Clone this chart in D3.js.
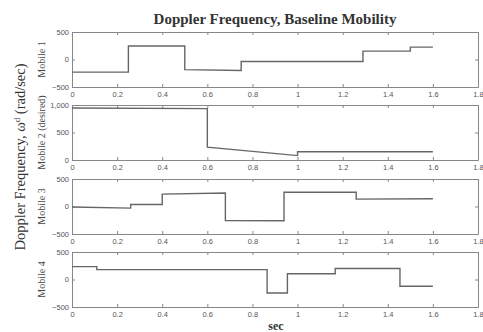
<!DOCTYPE html>
<html>
<head>
<meta charset="utf-8">
<script src="https://cdn.jsdelivr.net/npm/d3@7"></script>
<style>
  body { margin: 0; background: #fff; }
  .tick text { font-family: "Liberation Sans", Arial, sans-serif; font-size: 7.5px; fill: #555; }
  .domain, .tick line { stroke: #888; }
</style>
</head>
<body>
<svg id="chart" width="483" height="332"></svg>
<script>
const xTicks = [0, 0.2, 0.4, 0.6, 0.8, 1, 1.2, 1.4, 1.6, 1.8];
const panelNames = ["Mobile 1", "Mobile 2 (desired)", "Mobile 3", "Mobile 4"];
const yDomains = [[-500, 500], [0, 1000], [-500, 500], [-500, 500]];
const yTicks = [[-500, 0, 500], [0, 500, 1000], [-500, 0, 500], [-500, 0, 500]];

// [time, value] pairs, vertical jumps listed twice
const mobile1 = [[0, -230], [0.25, -230], [0.25, 245], [0.5, 245], [0.5, -185], [0.75, -200],
  [0.75, -35], [1.29, -35], [1.29, 152], [1.5, 152], [1.5, 225], [1.6, 225]];
const mobile2 = [[0, 945], [0.6, 935], [0.6, 235], [1.0, 80], [1.0, 150], [1.6, 150]];
const mobile3 = [[0, -10], [0.26, -30], [0.26, 37], [0.4, 37], [0.4, 225], [0.68, 245],
  [0.68, -255], [0.94, -260], [0.94, 258], [1.26, 262], [1.26, 135], [1.6, 142]];
const mobile4 = [[0, 235], [0.11, 235], [0.11, 180], [0.865, 180], [0.865, -245], [0.955, -245],
  [0.955, 105], [1.167, 105], [1.167, 200], [1.454, 200], [1.454, -122], [1.6, -122]];
const series = [mobile1, mobile2, mobile3, mobile4];

const svg = d3.select("#chart");
const left = 72, right = 478;
const panelTops = [32, 105, 179, 252];
const panelH = 55;

const x = d3.scaleLinear().domain([0, 1.8]).range([left, right]);

series.forEach((data, i) => {
  const top = panelTops[i];
  const y = d3.scaleLinear().domain(yDomains[i]).range([top + panelH, top]);
  const g = svg.append("g");

  g.append("g")
    .attr("transform", `translate(0,${top + panelH})`)
    .call(d3.axisBottom(x).tickValues(xTicks).tickSize(-3).tickPadding(5).tickSizeOuter(0)
      .tickFormat(d3.format("")));
  g.append("g")
    .attr("transform", `translate(0,${top})`)
    .call(d3.axisTop(x).tickValues(xTicks).tickSize(-3).tickSizeOuter(0).tickFormat(""));
  g.append("g")
    .attr("transform", `translate(${left},0)`)
    .call(d3.axisLeft(y).tickValues(yTicks[i]).tickSize(-3).tickPadding(3).tickSizeOuter(0));
  g.append("g")
    .attr("transform", `translate(${right},0)`)
    .call(d3.axisRight(y).tickValues(yTicks[i]).tickSize(-3).tickSizeOuter(0).tickFormat(""));

  g.append("path")
    .datum(data)
    .attr("fill", "none")
    .attr("stroke", "#666")
    .attr("stroke-width", 1.4)
    .attr("d", d3.line().x(d => x(d[0])).y(d => y(d[1])));

  g.append("text")
    .attr("transform", `translate(45,${top + panelH / 2}) rotate(-90)`)
    .attr("text-anchor", "middle")
    .style("font-family", "Liberation Serif, serif")
    .style("font-size", "10px")
    .attr("fill", "#444")
    .text(panelNames[i]);
});

svg.append("text")
  .attr("x", 275).attr("y", 24)
  .attr("text-anchor", "middle")
  .style("font-family", "Liberation Serif, serif")
  .style("font-size", "15px")
  .style("font-weight", "bold")
  .attr("fill", "#333")
  .text("Doppler Frequency, Baseline Mobility");

svg.append("text")
  .attr("x", 276).attr("y", 330)
  .attr("text-anchor", "middle")
  .style("font-family", "Liberation Serif, serif")
  .style("font-size", "12px")
  .style("font-weight", "bold")
  .attr("fill", "#333")
  .text("sec");

const yl = svg.append("text")
  .attr("transform", "translate(25,157) rotate(-90)")
  .attr("text-anchor", "middle")
  .style("font-family", "Liberation Serif, serif")
  .style("font-size", "14.5px")
  .attr("fill", "#333");
yl.append("tspan").text("Doppler Frequency, ω");
yl.append("tspan").attr("dy", -5).style("font-size", "9px").text("d");
yl.append("tspan").attr("dy", 5).text(" (rad/sec)");
</script>
</body>
</html>
